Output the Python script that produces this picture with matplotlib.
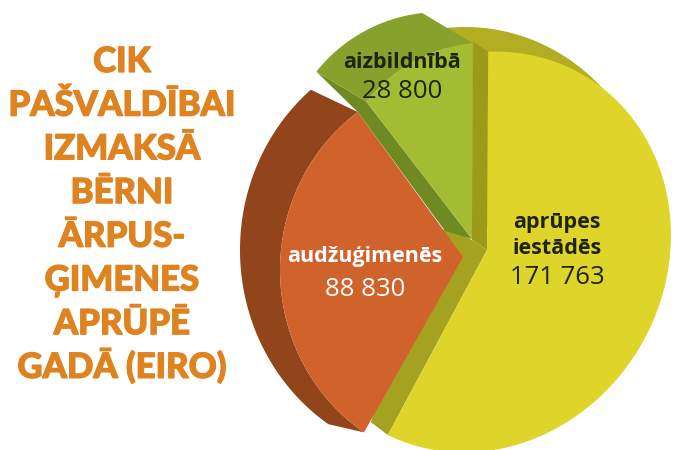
#!/usr/bin/env python3
"""Exploded pseudo-3D pie: municipal yearly cost per child in out-of-family care."""
import numpy as np
import matplotlib
matplotlib.use('Agg')
import matplotlib.pyplot as plt
import matplotlib.patheffects as pe

title_lines = ['CIK', 'PAŠVALDĪBAI', 'IZMAKSĀ', 'BĒRNI', 'ĀRPUS-', 'ĢIMENES', 'APRŪPĒ', 'GADĀ (EIRO)']
categories = ['aprūpes\niestādēs', 'audžuģimenēs', 'aizbildnībā']
values = [171763, 88830, 28800]
value_labels = ['171 763', '88 830', '28 800']

TOTAL = sum(values)


def sweep(value, stretch=1.0):
    # slice angle in degrees, the drawing is slightly skewed so some slices get a stretch
    return value / TOTAL * 360 * stretch


def arc(center, a, b, start, span, tilt=0.0, n=120):
    # angles run clockwise from 12 o'clock, tilt turns the major axis the same way
    t = np.radians(np.linspace(start, start + span, n) - tilt)
    along = a * np.cos(t)
    across = b * np.sin(t)
    r = np.radians(tilt)
    x = center[0] + along * np.sin(r) + across * np.cos(r)
    y = center[1] - along * np.cos(r) + across * np.sin(r)
    return np.column_stack([x, y])


def fill(ax, *parts, color):
    pts = np.vstack(parts)
    ax.fill(pts[:, 0], pts[:, 1], color=color, lw=0)


fig = plt.figure(figsize=(6.8, 4.5), dpi=100)
ax = fig.add_axes([0, 0, 1, 1])
ax.set_xlim(0, 680)
ax.set_ylim(450, 0)
ax.axis('off')

# yellow slice
y_apex = np.array([[487, 250]])
y_back_apex = y_apex + [-15, -10]
y_span = sweep(values[0], 0.966)
y_arc = arc((480, 252), 205, 186, 0, y_span, tilt=30)
fill(ax, y_back_apex, arc((465, 225), 198, 190, -6, 62), color='#b2ad22')
fill(ax, y_back_apex, y_arc[:1] + [-15, -10], y_arc[:1], y_apex, color='#9c9a1a')
# lower wall reaches left of the back apex, under the orange tip
fill(ax, y_apex + [-42, -24], y_back_apex, y_apex, y_arc[-1:], y_arc[-1:] + [-17, -13], color='#a4a220')
fill(ax, y_apex, y_arc, color='#ded42a')

# orange slice
o_span = sweep(values[1])
o_front = arc((468, 270), 195, 188, 213.6, o_span)
o_back = arc((440, 250), 210, 200, 214, o_span * 0.957)
fill(ax, o_back, o_front[::-1], color='#92441a')
fill(ax, np.array([[463, 257]]), o_front, color='#d0622c')

# green slice
g_apex = np.array([[472, 239]])
g_span = sweep(values[2], 1.257)
g_front = arc((490, 200), 158, 158, 308.5, g_span)
g_back = arc((440, 170), 158, 158, 308.5, g_span)
fill(ax, g_front[:1], g_back[:1], o_front[-1:], g_apex + [-27, -8], g_apex, color='#6f8a22')
fill(ax, g_apex, g_front, color='#a4bc33')
fill(ax, g_back, g_front[::-1], color='#88a02c')

# title
title_y = 72
for line in title_lines:
    ax.text(122, title_y, line, ha='center', va='baseline', color='#df8220',
            family='Lato', weight='black', fontsize=25,
            path_effects=[pe.withStroke(linewidth=0.9, foreground='#df8220')])
    title_y += 43.7

label_font = 'Open Sans'
ax.text(557, 228, 'aprūpes', ha='center', va='baseline', color='#1f2410',
        family=label_font, weight='bold', fontsize=15.5)
ax.text(557, 254, 'iestādēs', ha='center', va='baseline', color='#1f2410',
        family=label_font, weight='bold', fontsize=15.5)
ax.text(557, 284, value_labels[0], ha='center', va='baseline', color='#1f2410',
        family=label_font, fontsize=18.5)
ax.text(365, 262, categories[1], ha='center', va='baseline', color='white',
        family=label_font, weight='bold', fontsize=15.5)
ax.text(365, 296, value_labels[1], ha='center', va='baseline', color='white',
        family=label_font, fontsize=18.5)
ax.text(402, 68, categories[2], ha='center', va='baseline', color='#1f2410',
        family=label_font, weight='bold', fontsize=15.5)
ax.text(402, 98, value_labels[2], ha='center', va='baseline', color='#1f2410',
        family=label_font, fontsize=18.5)

fig.savefig('out.png', dpi=100)
